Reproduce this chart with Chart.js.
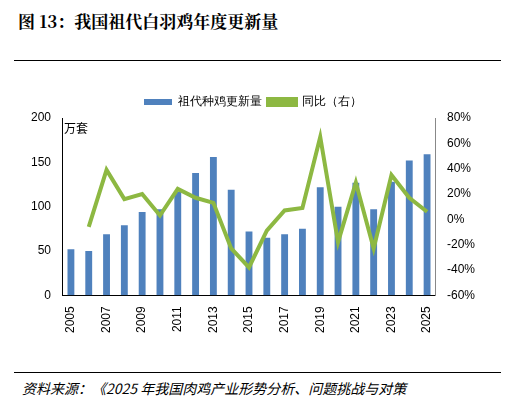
<!DOCTYPE html>
<html><head><meta charset="utf-8">
<script src="https://cdn.jsdelivr.net/npm/chart.js@4"></script>
<style>
body{margin:0;background:#fff;font-family:"Noto Sans CJK SC",sans-serif;}
#wrap{position:relative;width:515px;height:404px;}
#title{position:absolute;left:18px;top:8px;font-size:17px;font-weight:bold;font-family:"Noto Serif CJK SC","Noto Sans CJK SC",serif;}
#top{position:absolute;left:14px;right:14px;top:60px;border-top:1.5px solid #000;}
#bot{position:absolute;left:14px;right:14px;top:372px;border-top:1px solid #000;}
#src{position:absolute;left:22px;top:378px;font-size:14px;font-style:italic;}
#c{position:absolute;left:28px;top:90px;}
</style></head><body>
<div id="wrap">
<div id="title">图 13：我国祖代白羽鸡年度更新量</div>
<div id="top"></div>
<div id="c"><canvas id="chart" width="450" height="246"></canvas></div>
<div id="bot"></div>
<div id="src">资料来源：《2025 年我国肉鸡产业形势分析、问题挑战与对策</div>
</div>
<script>
const years = ["2005","2006","2007","2008","2009","2010","2011","2012","2013","2014","2015","2016","2017","2018","2019","2020","2021","2022","2023","2024","2025"];
const renewal = [52,50,69,79,94,97,117,138,156,119,72,65,69,75,122,100,127,97,128,152,159];
const yoy = [null,-6,39,16,20,3,24,17,13,-23,-38,-9,7,9,65,-18,29,-23,35,17,6];

new Chart(document.getElementById("chart"), {
  data: {
    labels: years,
    datasets: [
      {type:"line", label:"同比（右）", data:yoy, yAxisID:"y1", borderColor:"#8db842", backgroundColor:"#8db842", borderWidth:4, pointRadius:0, tension:0, order:0},
      {type:"bar", label:"祖代种鸡更新量", data:renewal, yAxisID:"y", backgroundColor:"#4f81bd", barPercentage:0.7, categoryPercentage:0.55, order:1}
    ]
  },
  options: {
    responsive:false, animation:false,
    layout:{padding:{top:0}},
    plugins:{
      legend:{position:"top", reverse:true, labels:{boxWidth:28, boxHeight:6, color:"#000", font:{size:12}, padding:6}},
      tooltip:{enabled:false}
    },
    scales:{
      x:{grid:{display:false, drawTicks:true}, border:{color:"#000"},
        ticks:{autoSkip:false, maxRotation:90, minRotation:90, color:"#000", font:{size:12},
          callback:function(v,i){return i%2===0?this.getLabelForValue(v):"";}}},
      y:{position:"left", min:0, max:200, grid:{display:false}, border:{color:"#000"},
        ticks:{stepSize:50, color:"#000", font:{size:12}}},
      y1:{position:"right", min:-60, max:80, grid:{display:false}, border:{color:"#888"},
        ticks:{stepSize:20, color:"#000", font:{size:12}, callback:v=>v+"%"}}
    }
  },
  plugins:[{id:"unit", afterDraw(c){const x=c.ctx;x.save();x.font="12px 'Noto Sans CJK SC'";x.fillStyle="#000";x.fillText("万套", c.scales.y.right+2, c.scales.y.top+10);x.restore();}}]
});
</script>
</body></html>
